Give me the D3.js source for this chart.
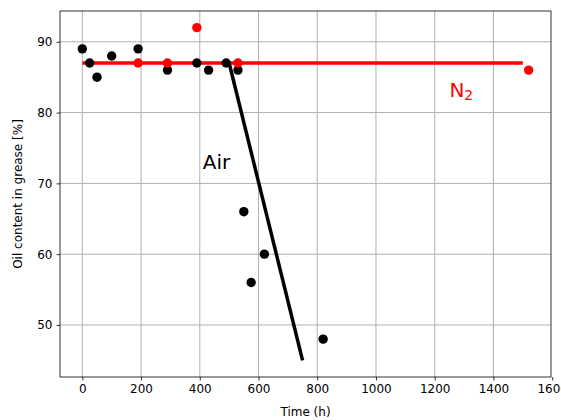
<!DOCTYPE html>
<html>
<head>
<meta charset="utf-8">
<script src="https://cdn.jsdelivr.net/npm/d3@7"></script>
<style>
  body { margin: 0; background: #fff; }
  text { font-family: "DejaVu Sans", sans-serif; }
</style>
</head>
<body>
<svg id="chart"></svg>
<script>
// measured points, air ageing
var airTime = [0, 25, 50, 100, 190, 290, 390, 430, 490, 530, 550, 575, 620, 820];
var airOil = [89, 87, 85, 88, 89, 86, 87, 86, 87, 86, 66, 56, 60, 48];
// measured points, nitrogen
var n2Time = [190, 290, 390, 530, 1520];
var n2Oil = [87, 87, 92, 87, 86];
// trend lines
var airFitTime = [500, 750];
var airFitOil = [87, 45];
var n2FitTime = [0, 1500];
var n2FitOil = [87, 87];
var xTicks = [0, 200, 400, 600, 800, 1000, 1200, 1400, 1600];
var yTicks = [50, 60, 70, 80, 90];

var width = 561, height = 420;
var margin = {top: 11, right: 10, bottom: 43, left: 60};

var svg = d3.select('#chart')
    .attr('width', width)
    .attr('height', height);

var x = d3.scaleLinear().domain([-76, 1596]).range([margin.left, width - margin.right]);
var y = d3.scaleLinear().domain([42.65, 94.35]).range([height - margin.bottom, margin.top]);

// grid
var grid = svg.append('g');
grid.selectAll('line.gx')
    .data(xTicks.filter(function (d) { return d <= 1596; }))
    .enter().append('line')
    .attr('x1', d => x(d)).attr('x2', d => x(d))
    .attr('y1', margin.top).attr('y2', height - margin.bottom)
    .attr('stroke', '#b0b0b0').attr('stroke-width', 1);
grid.selectAll('line.gy')
    .data(yTicks)
    .enter().append('line')
    .attr('y1', d => y(d)).attr('y2', d => y(d))
    .attr('x1', margin.left).attr('x2', width - margin.right)
    .attr('stroke', '#b0b0b0').attr('stroke-width', 1);

// axes
var xAxis = svg.append('g')
    .attr('transform', 'translate(0,' + (height - margin.bottom) + ')')
    .call(d3.axisBottom(x).tickValues(xTicks).tickSize(3.5).tickPadding(4).tickFormat(d3.format('d')));
var yAxis = svg.append('g')
    .attr('transform', 'translate(' + margin.left + ',0)')
    .call(d3.axisLeft(y).tickValues(yTicks).tickSize(3.5).tickPadding(4));
[xAxis, yAxis].forEach(function (a) {
  a.select('.domain').remove();
  a.selectAll('text').attr('font-size', 12).attr('fill', '#000').style('font-family', '"DejaVu Sans", sans-serif');
  a.selectAll('line').attr('stroke', '#000').attr('stroke-width', 0.8);
});

var line = d3.line().x(d => x(d[0])).y(d => y(d[1]));

svg.append('path')
    .attr('d', line(d3.zip(n2FitTime, n2FitOil)))
    .attr('stroke', '#ff0000').attr('stroke-width', 3.5).attr('fill', 'none');
svg.append('path')
    .attr('d', line(d3.zip(airFitTime, airFitOil)))
    .attr('stroke', '#000').attr('stroke-width', 3.5).attr('fill', 'none');

svg.append('g').selectAll('circle')
    .data(d3.zip(airTime, airOil))
    .enter().append('circle')
    .attr('cx', d => x(d[0])).attr('cy', d => y(d[1]))
    .attr('r', 4.7).attr('fill', '#000');
svg.append('g').selectAll('circle')
    .data(d3.zip(n2Time, n2Oil))
    .enter().append('circle')
    .attr('cx', d => x(d[0])).attr('cy', d => y(d[1]))
    .attr('r', 4.7).attr('fill', '#ff0000');

// frame
svg.append('rect')
    .attr('x', margin.left).attr('y', margin.top)
    .attr('width', width - margin.left - margin.right)
    .attr('height', height - margin.top - margin.bottom)
    .attr('fill', 'none').attr('stroke', '#000').attr('stroke-width', 0.8);

// annotations
svg.append('text')
    .attr('x', x(410)).attr('y', y(72))
    .attr('font-size', 20).attr('fill', '#000')
    .text('Air');
var n2 = svg.append('text')
    .attr('x', x(1250)).attr('y', y(82.2))
    .attr('font-size', 20).attr('fill', '#ff0000')
    .text('N');
n2.append('tspan').attr('font-size', 14).attr('dy', 3).text('2');

// axis labels
svg.append('text')
    .attr('x', (margin.left + width - margin.right) / 2)
    .attr('y', height - 4)
    .attr('text-anchor', 'middle').attr('font-size', 12)
    .text('Time (h)');
svg.append('text')
    .attr('transform', 'translate(22,' + ((margin.top + height - margin.bottom) / 2) + ') rotate(-90)')
    .attr('text-anchor', 'middle').attr('font-size', 12)
    .text('Oil content in grease [%]');
</script>
</body>
</html>
